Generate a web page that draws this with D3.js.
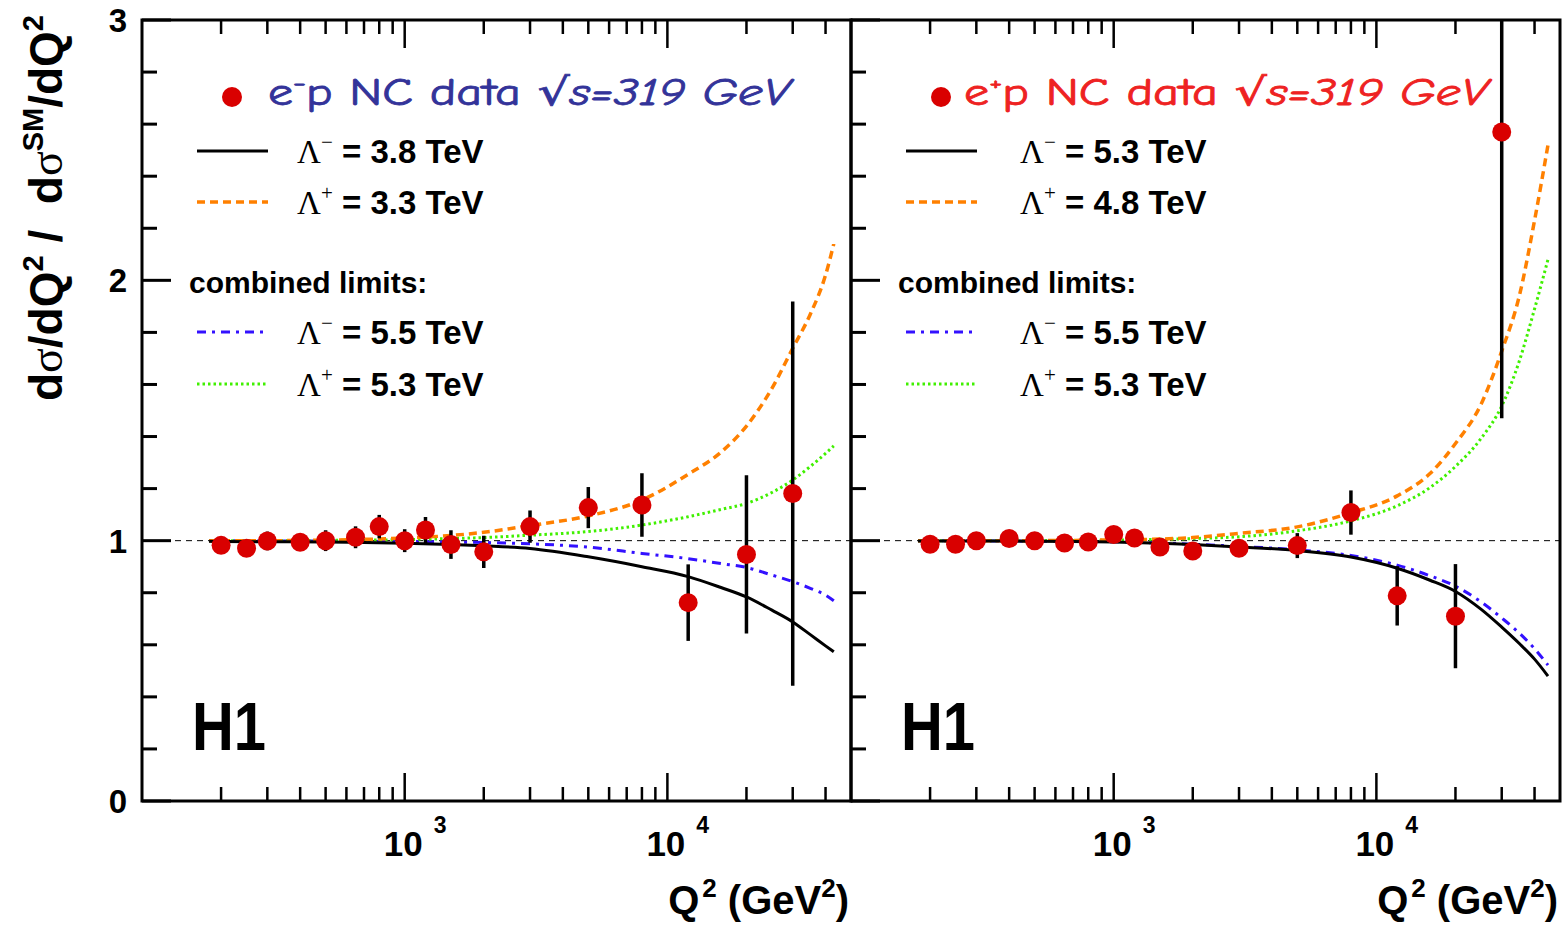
<!DOCTYPE html>
<html><head><meta charset="utf-8">
<script src="https://cdn.jsdelivr.net/npm/d3@7"></script>
<style>body{margin:0;background:#fff}svg{display:block}</style>
</head><body>
<svg id="c" width="1562" height="926"></svg>
<script>
// ---------- data ----------
const emQ2 = [200,250,300,400,500,650,800,1000,1200,1500,2000,3000,5000,8000,12000,20000,30000];
const emRatio = [0.982,0.971,0.999,0.994,1.0,1.013,1.054,1.0,1.041,0.985,0.957,1.054,1.127,1.137,0.762,0.947,1.181];
const emErr = [0.025,0.025,0.036,0.025,0.04,0.042,0.045,0.044,0.05,0.055,0.062,0.062,0.079,0.122,0.147,0.304,0.738];

const epQ2 = [200,250,300,400,500,650,800,1000,1200,1500,2000,3000,5000,8000,12000,20000,30000];
const epRatio = [0.986,0.986,1.0,1.008,1.0,0.991,0.995,1.024,1.01,0.976,0.960,0.971,0.981,1.108,0.788,0.710,2.57];
const epErr = [0.02,0.02,0.025,0.025,0.025,0.025,0.025,0.025,0.03,0.03,0.03,0.03,0.048,0.085,0.114,0.2,1.1];

const leftCurveQ2 = [180,200,300,500,700,1000,1500,2000,3000,5000,8000,12000,16000,20000,25000,30000,35000,40000,43000];
const leftBlack  = [0.998,0.997,0.996,0.995,0.993,0.99,0.985,0.98,0.97,0.938,0.90,0.862,0.82,0.784,0.733,0.688,0.639,0.596,0.573];
const leftOrange = [1.0,1.0,1.0,1.002,1.005,1.01,1.02,1.032,1.058,1.095,1.156,1.255,1.34,1.44,1.585,1.739,1.87,2.02,2.14];
const leftGreen  = [1.0,1.0,1.0,1.001,1.002,1.004,1.008,1.012,1.021,1.035,1.06,1.092,1.12,1.143,1.185,1.233,1.285,1.335,1.364];
const leftBlue   = [1.0,1.0,0.999,0.999,0.998,0.997,0.995,0.993,0.988,0.975,0.951,0.931,0.912,0.897,0.868,0.843,0.817,0.791,0.769];

const rightCurveQ2 = [180,200,300,500,700,1000,1500,2000,3000,5000,8000,12000,16000,20000,25000,30000,35000,40000,45000];
const rightBlack  = [0.999,0.999,0.999,0.998,0.997,0.995,0.990,0.985,0.976,0.962,0.937,0.894,0.848,0.805,0.737,0.668,0.605,0.545,0.48];
const rightBlue   = [1.0,1.0,0.999,0.998,0.997,0.996,0.991,0.986,0.978,0.965,0.943,0.906,0.865,0.825,0.765,0.703,0.645,0.585,0.522];
const rightOrange = [1.0,1.0,1.0,1.0,1.001,1.003,1.006,1.012,1.028,1.053,1.107,1.172,1.258,1.373,1.523,1.728,1.94,2.23,2.52];
const rightGreen  = [1.0,1.0,1.0,1.0,1.001,1.002,1.005,1.008,1.015,1.038,1.076,1.134,1.204,1.285,1.392,1.517,1.69,1.89,2.08];

const xMajorTicks = [1000, 10000];
const xTickBase = ["10","10"];
const xTickExp = ["3","4"];
const yMajorTicks = [0,1,2,3];
const yTickLabels = ["0","1","2","3"];

const leftLegend = {sign1:"\u2212", val1:"3.8", sign2:"+", val2:"3.3", sign3:"\u2212", val3:"5.5", sign4:"+", val4:"5.3"};
const rightLegend = {sign1:"\u2212", val1:"5.3", sign2:"+", val2:"4.8", sign3:"\u2212", val3:"5.5", sign4:"+", val4:"5.3"};

// ---------- styles ----------
const C_RED = "#d90000", C_ORANGE = "#ff8000", C_GREEN = "#40f000", C_BLUE = "#3311ff";
const SANS = "'Liberation Sans', Arial, Helvetica, sans-serif";
const SERIF = "'Liberation Serif', 'Times New Roman', serif";
const COMIC = "'Comic Sans MS', 'Comic Neue', 'Noto Sans', 'DejaVu Sans', sans-serif";

const svg = d3.select("#c");
const Y_TOP = 20, Y_BOT = 801;
const y = d3.scaleLinear().domain([0,3]).range([Y_BOT, Y_TOP]);

const panels = [
  {x0:142, x1:851, q2:emQ2, r:emRatio, e:emErr, cq:leftCurveQ2,
   black:leftBlack, orange:leftOrange, green:leftGreen, blue:leftBlue,
   legend:leftLegend, head:"e", headSup:"\u2212", headColor:"#333399", yLabels:true, dotX:232, textX:268, headLen:522, lineX:197, lamX:297, combX:189},
  {x0:851, x1:1560, q2:epQ2, r:epRatio, e:epErr, cq:rightCurveQ2,
   black:rightBlack, orange:rightOrange, green:rightGreen, blue:rightBlue,
   legend:rightLegend, head:"e", headSup:"+", headColor:"#ee2222", yLabels:false, dotX:941, textX:964, headLen:524, lineX:906, lamX:1020, combX:898}
];

panels.forEach((p, i) => {
  const x = d3.scaleLog().domain([100, 50000]).range([p.x0, p.x1]);
  const g = svg.append("g");
  const clipId = "clip" + i;
  svg.append("clipPath").attr("id", clipId).append("rect")
    .attr("x", p.x0).attr("y", Y_TOP).attr("width", p.x1 - p.x0).attr("height", Y_BOT - Y_TOP);
  const plot = g.append("g").attr("clip-path", `url(#${clipId})`);

  plot.append("line").attr("x1", p.x0).attr("x2", p.x1).attr("y1", y(1)).attr("y2", y(1))
    .attr("stroke", "#000").attr("stroke-width", 1).attr("stroke-dasharray", "6,5");

  const line = d3.line().x((d,k) => x(p.cq[k])).y(d => y(d)).curve(d3.curveMonotoneX);
  const curves = [
    {v:p.blue, c:C_BLUE, w:3, dash:"9,6,3,6"},
    {v:p.green, c:C_GREEN, w:3, dash:"2.5,3"},
    {v:p.orange, c:C_ORANGE, w:3.5, dash:"8,5"},
    {v:p.black, c:"#000", w:3, dash:null}
  ];
  curves.forEach(cv => {
    plot.append("path").attr("d", line(cv.v)).attr("fill", "none")
      .attr("stroke", cv.c).attr("stroke-width", cv.w)
      .attr("stroke-dasharray", cv.dash);
  });

  plot.selectAll(".eb").data(p.q2).join("line")
    .attr("x1", d => x(d)).attr("x2", d => x(d))
    .attr("y1", (d,k) => y(p.r[k] - p.e[k])).attr("y2", (d,k) => y(p.r[k] + p.e[k]))
    .attr("stroke", "#000").attr("stroke-width", 3.5);
  plot.selectAll(".pt").data(p.q2).join("circle")
    .attr("cx", d => x(d)).attr("cy", (d,k) => y(p.r[k])).attr("r", 9.5)
    .attr("fill", C_RED);

  const xMinor = x.ticks().filter(t => t > 100 && t < 50000 && !xMajorTicks.includes(t));
  const xt = [...xMajorTicks.map(t => ({t, L:28})), ...xMinor.map(t => ({t, L:14}))];
  g.selectAll(".xb").data(xt).join("line")
    .attr("x1", d => x(d.t)).attr("x2", d => x(d.t))
    .attr("y1", Y_BOT).attr("y2", d => Y_BOT - d.L)
    .attr("stroke", "#000").attr("stroke-width", 2.5);
  g.selectAll(".xt").data(xt).join("line")
    .attr("x1", d => x(d.t)).attr("x2", d => x(d.t))
    .attr("y1", Y_TOP).attr("y2", d => Y_TOP + d.L)
    .attr("stroke", "#000").attr("stroke-width", 2.5);
  const yMinor = d3.range(0, 3.001, 0.2).map(v => +v.toFixed(1)).filter(v => !yMajorTicks.includes(v));
  const ytk = [...yMajorTicks.map(t => ({t, L:29})), ...yMinor.map(t => ({t, L:15}))];
  g.selectAll(".yt").data(ytk).join("line")
    .attr("x1", p.x0).attr("x2", d => p.x0 + d.L)
    .attr("y1", d => y(d.t)).attr("y2", d => y(d.t))
    .attr("stroke", "#000").attr("stroke-width", 3);

  g.append("rect").attr("x", p.x0).attr("y", Y_TOP).attr("width", p.x1 - p.x0).attr("height", Y_BOT - Y_TOP)
    .attr("fill", "none").attr("stroke", "#000").attr("stroke-width", 3);

  xMajorTicks.forEach((t, k) => {
    const tx = g.append("text").attr("x", x(t) - 21).attr("y", 856)
      .attr("font-family", SANS).attr("font-weight", "bold").attr("font-size", 35);
    tx.append("tspan").text(xTickBase[k]);
    tx.append("tspan").attr("dx", 11).attr("dy", -23).attr("font-size", 23).text(xTickExp[k]);
  });
  const xt2 = g.append("text").attr("x", p.x1 - 2).attr("y", 914).attr("text-anchor", "end")
    .attr("font-family", SANS).attr("font-weight", "bold").attr("font-size", 40);
  xt2.append("tspan").text("Q");
  xt2.append("tspan").attr("dy", -17).attr("dx", 3).attr("font-size", 26).text("2");
  xt2.append("tspan").attr("dy", 17).text("\u00A0(GeV");
  xt2.append("tspan").attr("dy", -17).attr("font-size", 26).text("2");
  xt2.append("tspan").attr("dy", 17).text(")");

  if (p.yLabels) {
    g.selectAll(".yl").data(yMajorTicks).join("text")
      .attr("x", 118).attr("y", d => y(d) + 12).attr("text-anchor", "middle")
      .attr("font-family", SANS).attr("font-weight", "bold").attr("font-size", 33)
      .text((d,k) => yTickLabels[k]);
  }

  g.append("circle").attr("cx", p.dotX).attr("cy", 97).attr("r", 10).attr("fill", C_RED);
  const h = g.append("text").attr("x", p.textX).attr("y", 105)
    .attr("font-family", COMIC).attr("font-size", 38).attr("fill", p.headColor)
    .attr("stroke", p.headColor).attr("stroke-width", 0.8)
    .attr("textLength", p.headLen).attr("lengthAdjust", "spacingAndGlyphs");
  h.append("tspan").text(p.head);
  h.append("tspan").attr("dy", -15).attr("font-size", 22).text(p.headSup);
  h.append("tspan").attr("dy", 15).text("p NC data  ");
  h.append("tspan").attr("font-style", "italic").text("\u221As=319 GeV");

  const rows = [
    {yl:151, yb:163, c:"#000", w:3, dash:null, s:p.legend.sign1, v:p.legend.val1},
    {yl:202, yb:214, c:C_ORANGE, w:3.5, dash:"8,5", s:p.legend.sign2, v:p.legend.val2},
    {yl:332, yb:344, c:C_BLUE, w:3, dash:"9,6,3,6", s:p.legend.sign3, v:p.legend.val3},
    {yl:384, yb:396, c:C_GREEN, w:3, dash:"2.5,3", s:p.legend.sign4, v:p.legend.val4}
  ];
  rows.forEach(r => {
    g.append("line").attr("x1", p.lineX).attr("x2", p.lineX + 71).attr("y1", r.yl).attr("y2", r.yl)
      .attr("stroke", r.c).attr("stroke-width", r.w).attr("stroke-dasharray", r.dash);
    const t = g.append("text").attr("x", p.lamX).attr("y", r.yb)
      .attr("font-family", SANS).attr("font-weight", "bold").attr("font-size", 33);
    t.append("tspan").attr("font-family", SERIF).attr("font-weight", "normal").text("\u039B");
    t.append("tspan").attr("dy", -14).attr("font-size", 21).attr("font-family", SERIF).attr("font-weight", "normal").text(r.s);
    t.append("tspan").attr("dy", 14).text(" = " + r.v + " TeV");
  });
  g.append("text").attr("x", p.combX).attr("y", 293)
    .attr("font-family", SANS).attr("font-weight", "bold").attr("font-size", 30)
    .text("combined limits:");

  g.append("text").attr("x", p.x0 + 50).attr("y", 750)
    .attr("font-family", SANS).attr("font-weight", "bold").attr("font-size", 68)
    .attr("textLength", 74).attr("lengthAdjust", "spacingAndGlyphs")
    .text("H1");
});

const ytitle = svg.append("text").attr("transform", "translate(62,15) rotate(-90)")
  .attr("text-anchor", "end").attr("font-family", SANS).attr("font-weight", "bold").attr("font-size", 46);
ytitle.append("tspan").text("d");
ytitle.append("tspan").attr("font-family", SERIF).attr("font-weight", "normal").text("\u03C3");
ytitle.append("tspan").text("/dQ");
ytitle.append("tspan").attr("dy", -19).attr("font-size", 29).text("2");
ytitle.append("tspan").attr("dy", 19).text("\u00A0/\u00A0\u00A0d");
ytitle.append("tspan").attr("font-family", SERIF).attr("font-weight", "normal").text("\u03C3");
ytitle.append("tspan").attr("dy", -19).attr("font-size", 29).text("SM");
ytitle.append("tspan").attr("dy", 19).text("/dQ");
ytitle.append("tspan").attr("dy", -19).attr("font-size", 29).text("2");
</script>
</body></html>
